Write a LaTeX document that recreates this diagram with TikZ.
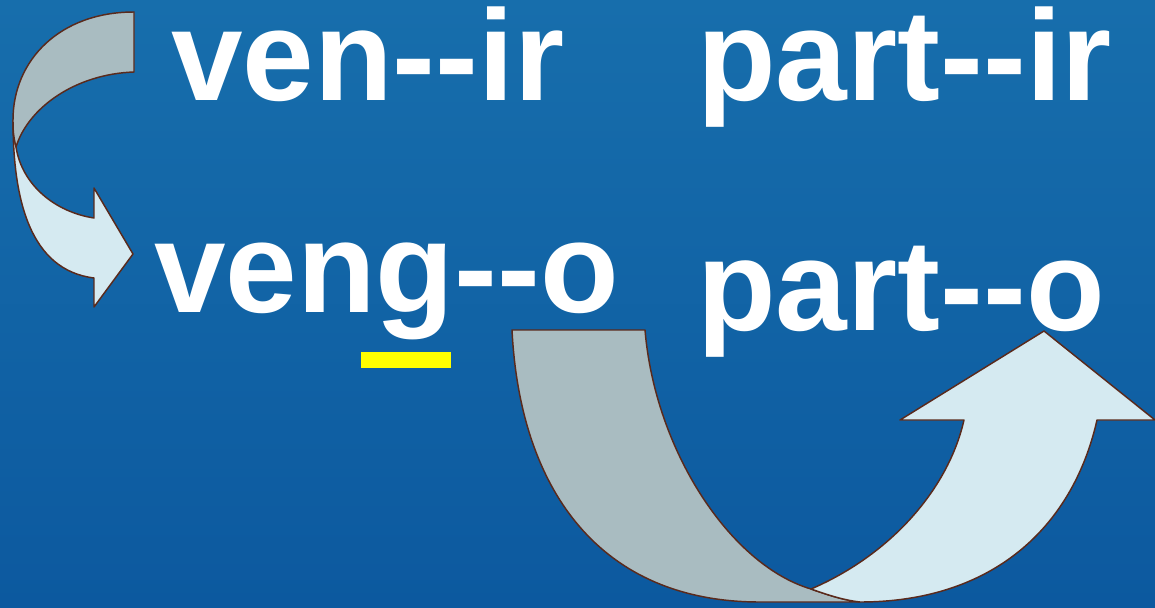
\documentclass[tikz,border=0pt]{standalone}
\usepackage{fontspec}
\setmainfont{Liberation Sans}
\definecolor{bgtop}{HTML}{176EAC}
\definecolor{bgbot}{HTML}{0C599F}
\definecolor{backband}{HTML}{A9BCC1}
\definecolor{frontband}{HTML}{D5EAF1}
\definecolor{edge}{HTML}{5A2A1C}
\definecolor{hiliteyellow}{HTML}{FFFF00}
\tikzset{
  word/.style={anchor=base west, inner sep=0pt, text=white,
    text height=0.72em, text depth=0.2em,
    font=\fontsize{97}{97}\selectfont\bfseries},
  backpart/.style={fill=backband, draw=edge, line width=1.1pt, line join=round},
  frontpart/.style={fill=frontband, draw=edge, line width=1.1pt, line join=round},
  underbar/.style={fill=hiliteyellow},
}
\newcommand{\narrowword}[1]{\scalebox{0.995}[1]{#1}}
\begin{document}
\begin{tikzpicture}[x=0.75pt, y=-0.75pt]
\shade[top color=bgtop, bottom color=bgbot] (0,0) rectangle (1155,607);
\useasboundingbox (0,0) rectangle (1155,607);

% left curved arrow
\draw[frontpart] (13,120) .. controls (13,200) and (30,270) .. (94,278)
  -- (94,307) -- (133,254) -- (94,188) -- (94,218)
  .. controls (55,212) and (22,185) .. (16,147) -- cycle;
\draw[backpart] (134,12) -- (134,72)
  .. controls (75,74) and (28,108) .. (16,147)
  .. controls (13,135) and (13,128) .. (13,120)
  .. controls (13,60) and (60,12) .. (134,12) -- cycle;

% words
\node[word] (venir) at (171,100) {\narrowword{ven-{}-ir}};
\node[word] (partir) at (697,100) {\narrowword{part-{}-ir}};
\node[word] (vengo) at (154,312) {\narrowword{veng-{}-o}};
\node[word] (parto) at (697,330) {\narrowword{part-{}-o}};
\fill[underbar] (361,352) rectangle (451,368);

% big curved arrow
\draw[backpart] (512,330) -- (645,330)
  .. controls (655,450) and (730,565) .. (811,589)
  .. controls (828,595) and (843,600) .. (860,602)
  -- (760,602)
  .. controls (600,602) and (520,490) .. (512,330) -- cycle;
\draw[frontpart] (811,589) .. controls (890,555) and (948,490) .. (964,420)
  -- (900,420) -- (1044,331) -- (1155,420) -- (1097,420)
  .. controls (1072,530) and (990,602) .. (860,602)
  .. controls (843,600) and (828,595) .. (811,589) -- cycle;
\end{tikzpicture}
\end{document}
